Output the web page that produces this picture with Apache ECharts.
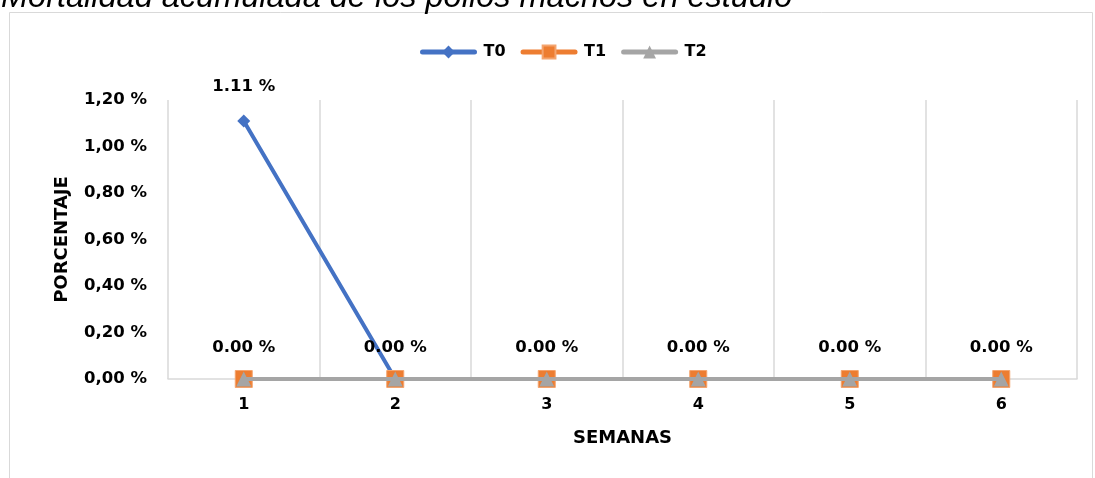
<!DOCTYPE html>
<html>
<head>
<meta charset="utf-8">
<script src="https://cdn.jsdelivr.net/npm/echarts@6/dist/echarts.min.js"></script>
<style>
html,body{margin:0;padding:0;background:#fff;}
#chart{width:1095px;height:478px;}
</style>
</head>
<body>
<div id="chart"></div>
<script>
const titleText = 'Mortalidad acumulada de los pollos machos en estudio';
const categories = ['1', '2', '3', '4', '5', '6'];
const seriesNames = ['T0', 'T1', 'T2'];
const t0 = [1.11, 0, 0, 0, 0, 0];
const t1 = [0, 0, 0, 0, 0, 0];
const t2 = [0, 0, 0, 0, 0, 0];
const yTicks = { min: 0, max: 1.2, interval: 0.2 };
const xName = 'SEMANAS';
const yName = 'PORCENTAJE';

const FONT = 'DejaVu Sans';
const chart = echarts.init(document.getElementById('chart'), null, { renderer: 'canvas' });
const pct = v => v.toFixed(2) + ' %';

chart.setOption({
  animation: false,
  backgroundColor: '#fff',
  graphic: [
    { type: 'rect', shape: { x: 9.5, y: 12.5, width: 1083, height: 500 }, style: { fill: 'none', stroke: '#D9D9D9', lineWidth: 1 }, silent: true },
    { type: 'text', x: 1, y: -2, style: { text: titleText, fontFamily: 'Liberation Sans', fontStyle: 'italic', fontSize: 32.5, fill: '#000', verticalAlign: 'middle' } }
  ],
  legend: {
    left: 415, top: 39,
    itemWidth: 52, itemHeight: 16, itemGap: 15,
    lineStyle: { width: 5, cap: 'round' },
    textStyle: { fontFamily: FONT, fontWeight: 'bold', fontSize: 16, color: '#000', padding: [0, 0, 0, 4] },
    data: seriesNames
  },
  grid: { left: 168, right: 18, top: 100, bottom: 99, containLabel: false },
  xAxis: {
    type: 'category', data: categories, boundaryGap: true,
    name: xName, nameLocation: 'middle', nameGap: 50,
    nameTextStyle: { fontFamily: FONT, fontWeight: 'bold', fontSize: 18, color: '#000' },
    axisLine: { show: true, lineStyle: { color: '#D9D9D9', width: 1.5 } },
    axisTick: { show: false },
    splitLine: { show: true, lineStyle: { color: '#D9D9D9', width: 1.5 } },
    axisLabel: { fontFamily: FONT, fontWeight: 'bold', fontSize: 16, color: '#000', margin: 18 }
  },
  yAxis: {
    type: 'value', min: yTicks.min, max: yTicks.max, interval: yTicks.interval,
    name: yName, nameLocation: 'middle', nameGap: 97, nameRotate: 90,
    nameTextStyle: { fontFamily: FONT, fontWeight: 'bold', fontSize: 18, color: '#000' },
    axisLine: { show: false }, axisTick: { show: false }, splitLine: { show: false },
    axisLabel: { fontFamily: FONT, fontWeight: 'bold', fontSize: 16.5, color: '#000', margin: 21,
      formatter: v => v.toFixed(2).replace('.', ',') + ' %' }
  },
  series: [
    {
      name: 'T0', type: 'line', data: t0.map((v, i) => ({ value: v, label: { show: i === 0 } })),
      symbol: 'diamond', symbolSize: 13, color: '#4472C4',
      lineStyle: { width: 4, color: '#4472C4' },
      label: { position: 'top', distance: 19, formatter: p => pct(p.value), fontFamily: FONT, fontWeight: 'bold', fontSize: 16.5, color: '#000' },
      z: 3
    },
    {
      name: 'T1', type: 'line', data: t1,
      symbol: 'rect', symbolSize: 17, color: '#ED7D31',
      itemStyle: { borderColor: '#F4A46E', borderWidth: 1 },
      lineStyle: { width: 4, color: '#ED7D31' },
      label: { show: true, position: 'top', distance: 14, formatter: p => pct(p.value), fontFamily: FONT, fontWeight: 'bold', fontSize: 16.5, color: '#000' },
      z: 4
    },
    {
      name: 'T2', type: 'line', data: t2,
      symbol: 'triangle', symbolSize: 15, color: '#A5A5A5',
      lineStyle: { width: 4, color: '#A5A5A5' },
      z: 5
    }
  ]
});
</script>
</body>
</html>
